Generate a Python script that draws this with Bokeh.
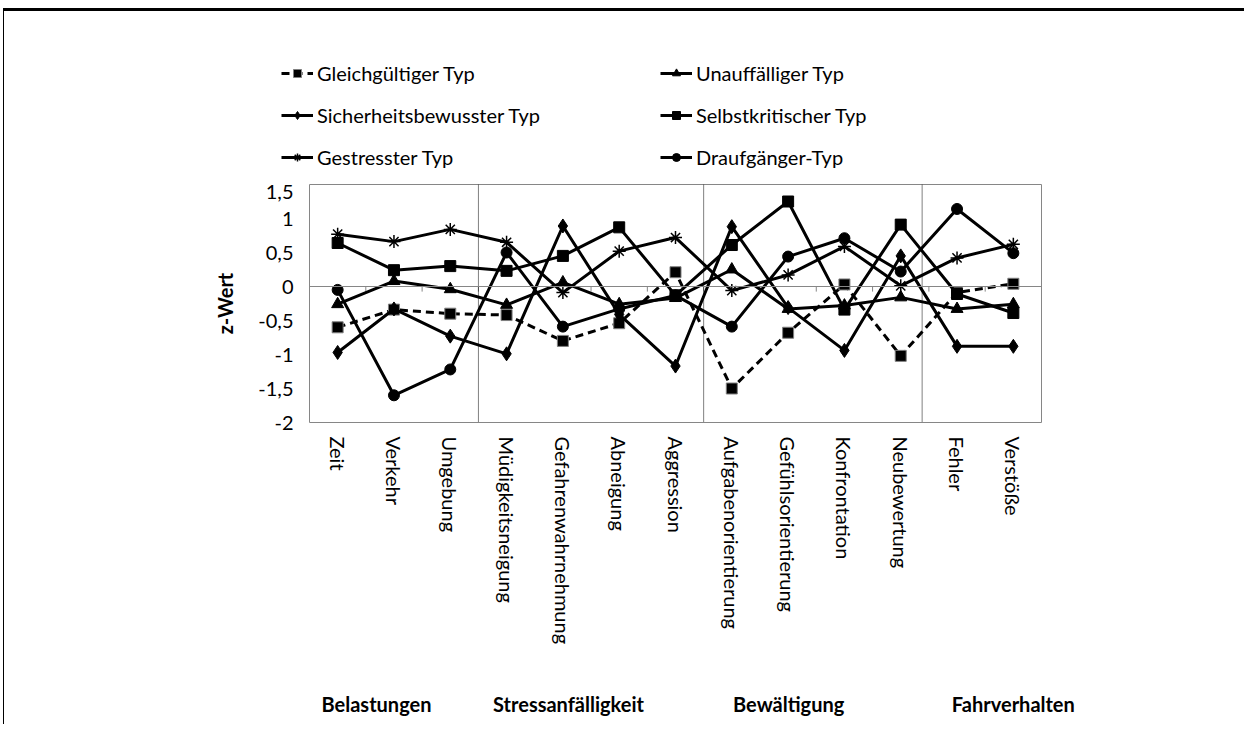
import math
from bokeh.plotting import figure
from bokeh.models import (Range1d, FixedTicker, Legend, LegendItem, Span, LinearAxis)
from bokeh.embed import file_html
from bokeh.resources import INLINE

categories = ["Zeit", "Verkehr", "Umgebung", "Müdigkeitsneigung", "Gefahrenwahrnehmung",
              "Abneigung", "Aggression", "Aufgabenorientierung", "Gefühlsorientierung",
              "Konfrontation", "Neubewertung", "Fehler", "Verstöße"]

gleichgueltig = [-0.60, -0.34, -0.40, -0.42, -0.80, -0.54, 0.21, -1.50, -0.68, 0.03, -1.02, -0.09, 0.04]
unauffaellig = [-0.26, 0.08, -0.04, -0.27, 0.06, -0.26, -0.17, 0.25, -0.33, -0.28, -0.16, -0.33, -0.26]
sicherheit = [-0.97, -0.33, -0.73, -0.99, 0.89, -0.41, -1.17, 0.88, -0.31, -0.94, 0.45, -0.88, -0.88]
selbstkritisch = [0.64, 0.24, 0.30, 0.23, 0.45, 0.87, -0.13, 0.61, 1.25, -0.34, 0.91, -0.11, -0.39]
gestresst = [0.77, 0.66, 0.84, 0.65, -0.09, 0.52, 0.72, -0.06, 0.17, 0.59, 0.01, 0.42, 0.62]
draufgaenger = [-0.05, -1.60, -1.22, 0.50, -0.59, -0.33, -0.13, -0.59, 0.44, 0.71, 0.22, 1.14, 0.49]

series_names = ["Gleichgültiger Typ", "Unauffälliger Typ", "Sicherheitsbewusster Typ",
                "Selbstkritischer Typ", "Gestresster Typ", "Draufgänger-Typ"]
series_values = [gleichgueltig, unauffaellig, sicherheit, selbstkritisch, gestresst, draufgaenger]

groups = ["Belastungen", "Stressanfälligkeit", "Bewältigung", "Fahrverhalten"]
group_label_x = [1.69, 5.1, 9.01, 13.0]
separators_x = [3.5, 7.5, 11.38]

y_ticks = [-2, -1.5, -1, -0.5, 0, 0.5, 1, 1.5]
y_tick_labels = ["-2", "-1,5", "-1", "-0,5", "0", "0,5", "1", "1,5"]

FONT = "Lato"
FS = "20px"
LW = 3

styles = [
    dict(marker="square", size=11, fill_color="black", line_color="#7f7f7f", dash="8 5"),
    dict(marker="triangle", size=12, fill_color="black", line_color="black", dash="solid"),
    dict(marker="diamond", size=14, fill_color="black", line_color="black", dash="solid"),
    dict(marker="square", size=11, fill_color="black", line_color="black", dash="solid"),
    dict(marker="asterisk", size=13, fill_color="black", line_color="black", dash="solid"),
    dict(marker="circle", size=11, fill_color="black", line_color="black", dash="solid"),
]

xs = list(range(1, len(categories) + 1))

# ---------------- legend strip (top, separate root) ----------------
lf = figure(width=1241, height=176, output_backend="svg", toolbar_location=None,
            x_axis_location=None, y_axis_location=None,
            x_range=Range1d(-3, -2), y_range=Range1d(-2, 1.5),
            min_border_left=0, min_border_right=0, min_border_top=0, min_border_bottom=0)
lf.title.visible = False
lf.xgrid.visible = False
lf.ygrid.visible = False
lf.outline_line_color = None
lf.border_fill_color = "white"
lf.styles = {"border-top": "3px solid black", "border-left": "1px solid black",
             "margin-left": "3px", "margin-top": "8px"}

leg_items = []
for name, vals, st in zip(series_names, series_values, styles):
    lr = lf.line(xs, vals, line_color="black", line_width=LW, line_dash=st["dash"])
    mr = lf.scatter(xs, vals, marker=st["marker"], size=st["size"],
                    fill_color=st["fill_color"], line_color=st["line_color"],
                    line_width=1.5 if st["marker"] == "asterisk" else 1)
    leg_items.append(LegendItem(label=name, renderers=[lr, mr]))

legend = Legend(items=leg_items, location=(277, 18), orientation="horizontal", ncols=2,
                label_text_font=FONT, label_text_font_size=FS, label_text_color="black",
                glyph_width=32, glyph_height=20, label_height=20, label_width=325,
                spacing=18, label_standoff=4, padding=0, margin=0,
                background_fill_alpha=0, border_line_alpha=0)
lf.add_layout(legend, "center")

# ---------------- main chart ----------------
p = figure(width=1241, height=540, output_backend="svg", toolbar_location=None,
           x_range=Range1d(0.5, len(categories) + 0.5), y_range=Range1d(-2, 1.5),
           min_border_left=305, min_border_right=204, min_border_top=0, min_border_bottom=302)
p.title.visible = False
p.styles = {"border-left": "1px solid black", "margin-left": "3px"}
p.xgrid.visible = False
p.ygrid.visible = False
p.outline_line_color = "#868686"
p.outline_line_width = 1
p.background_fill_color = "white"
p.border_fill_color = "white"

# y axis
p.yaxis.ticker = FixedTicker(ticks=y_ticks)
p.yaxis.major_label_overrides = {t: l for t, l in zip(y_ticks, y_tick_labels)}
p.yaxis.axis_line_color = None
p.yaxis.major_tick_line_color = None
p.yaxis.minor_tick_line_color = None
p.yaxis.major_label_standoff = 10
p.yaxis.major_label_text_font = FONT
p.yaxis.major_label_text_font_size = FS
p.yaxis.major_label_text_color = "black"
p.yaxis.axis_label = "z-Wert"
p.yaxis.axis_label_text_font = FONT
p.yaxis.axis_label_text_font_size = FS
p.yaxis.axis_label_text_font_style = "bold"
p.yaxis.axis_label_text_color = "black"
p.yaxis.axis_label_standoff = 18

# x axis (categories)
p.xaxis.ticker = FixedTicker(ticks=xs)
p.xaxis.major_label_overrides = {x: c for x, c in zip(xs, categories)}
p.xaxis.major_label_orientation = -math.pi / 2
p.xaxis.axis_line_color = None
p.xaxis.major_tick_line_color = None
p.xaxis.minor_tick_line_color = None
p.xaxis.major_tick_out = 0
p.xaxis.major_tick_in = 0
p.xaxis.minor_tick_out = 0
p.xaxis.minor_tick_in = 0
p.xaxis.major_label_standoff = 14
p.xaxis.major_label_text_font = FONT
p.xaxis.major_label_text_font_size = FS
p.xaxis.major_label_text_color = "black"

# group axis
grp_axis = LinearAxis(ticker=FixedTicker(ticks=group_label_x),
                      major_label_overrides={g: n for g, n in zip(group_label_x, groups)},
                      axis_line_color=None, minor_tick_line_color=None,
                      major_tick_line_color=None, major_tick_out=0, major_tick_in=0,
                      minor_tick_out=0, minor_tick_in=0,
                      major_label_text_font=FONT, major_label_text_font_size=FS,
                      major_label_text_font_style="bold", major_label_text_color="black",
                      major_label_standoff=44)
p.add_layout(grp_axis, "below")

# separators inside plot area
for sx in separators_x:
    p.add_layout(Span(location=sx, dimension="height", line_color="black",
                      line_width=1, line_dash="1 1"))

# zero line with category boundary ticks
p.add_layout(Span(location=0, dimension="width", line_color="#868686", line_width=1))
bounds = [i + 0.5 for i in range(1, len(categories))]
p.segment(x0=bounds, y0=[0] * len(bounds), x1=bounds, y1=[-0.075] * len(bounds),
          line_color="#868686", line_width=1)

for vals, st in zip(series_values, styles):
    p.line(xs, vals, line_color="black", line_width=LW, line_dash=st["dash"])
    p.scatter(xs, vals, marker=st["marker"], size=st["size"],
              fill_color=st["fill_color"], line_color=st["line_color"],
              line_width=1.5 if st["marker"] == "asterisk" else 1)

open("out.html", "w").write(file_html([lf, p], INLINE))
